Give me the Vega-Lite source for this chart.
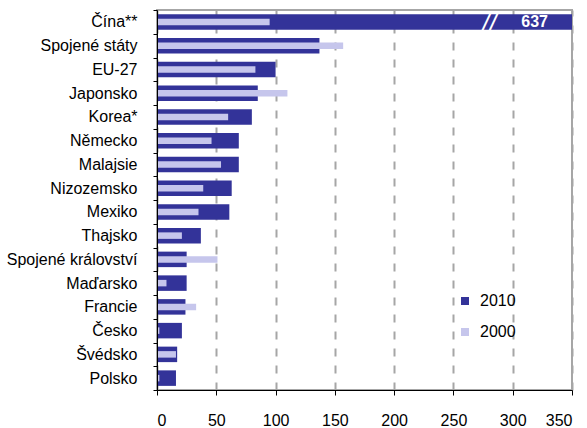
{
  "$schema": "https://vega.github.io/schema/vega-lite/v6.json",
  "autosize": {"type": "none"},
  "padding": {"left": 157, "top": 10, "right": 15, "bottom": 38},
  "width": 415,
  "height": 380,
  "config": {
    "font": "Liberation Sans",
    "view": {"stroke": "#a6a6a6", "strokeWidth": 2}
  },
  "data": {"values": [
    {"country": "Čína**", "year": "2010", "value": 637},
    {"country": "Čína**", "year": "2000", "value": 95},
    {"country": "Spojené státy", "year": "2010", "value": 137},
    {"country": "Spojené státy", "year": "2000", "value": 157},
    {"country": "EU-27", "year": "2010", "value": 100},
    {"country": "EU-27", "year": "2000", "value": 83},
    {"country": "Japonsko", "year": "2010", "value": 85},
    {"country": "Japonsko", "year": "2000", "value": 110},
    {"country": "Korea*", "year": "2010", "value": 80},
    {"country": "Korea*", "year": "2000", "value": 60},
    {"country": "Německo", "year": "2010", "value": 69},
    {"country": "Německo", "year": "2000", "value": 46},
    {"country": "Malajsie", "year": "2010", "value": 69},
    {"country": "Malajsie", "year": "2000", "value": 54},
    {"country": "Nizozemsko", "year": "2010", "value": 63},
    {"country": "Nizozemsko", "year": "2000", "value": 39},
    {"country": "Mexiko", "year": "2010", "value": 61},
    {"country": "Mexiko", "year": "2000", "value": 35},
    {"country": "Thajsko", "year": "2010", "value": 37},
    {"country": "Thajsko", "year": "2000", "value": 21},
    {"country": "Spojené království", "year": "2010", "value": 25},
    {"country": "Spojené království", "year": "2000", "value": 51},
    {"country": "Maďarsko", "year": "2010", "value": 25},
    {"country": "Maďarsko", "year": "2000", "value": 8},
    {"country": "Francie", "year": "2010", "value": 24},
    {"country": "Francie", "year": "2000", "value": 33},
    {"country": "Česko", "year": "2010", "value": 21},
    {"country": "Česko", "year": "2000", "value": 2},
    {"country": "Švédsko", "year": "2010", "value": 17},
    {"country": "Švédsko", "year": "2000", "value": 16},
    {"country": "Polsko", "year": "2010", "value": 16},
    {"country": "Polsko", "year": "2000", "value": 2}
  ]},
  "encoding": {
    "y": {
      "field": "country", "type": "nominal", "sort": null,
      "scale": {"paddingInner": 0, "paddingOuter": 0},
      "axis": {
        "title": null, "grid": false, "zindex": 1,
        "labelFontSize": 16, "labelColor": "#000000", "labelPadding": 16,
        "tickBand": "extent", "tickSize": 4, "tickColor": "#000000",
        "domainColor": "#000000", "domainWidth": 1
      }
    }
  },
  "layer": [
    {
      "transform": [{"filter": "datum.year == '2010'"}],
      "mark": {"type": "bar", "size": 15.5, "clip": true},
      "encoding": {
        "x": {
          "field": "value", "type": "quantitative",
          "scale": {"domain": [0, 350], "nice": false, "zero": true},
          "axis": {
            "title": null, "values": [0, 50, 100, 150, 200, 250, 300, 350],
            "labelFontSize": 16, "labelColor": "#000000", "labelPadding": 17,
            "tickSize": 5, "tickColor": "#000000", "domainColor": "#000000",
            "grid": true, "gridColor": "#a6a6a6", "gridWidth": 2, "gridDash": [8, 9]
          }
        },
        "color": {
          "field": "year", "type": "nominal",
          "scale": {"domain": ["2010", "2000"], "range": ["#333399", "#c6c6ec"]},
          "legend": {
            "title": null, "orient": "none", "legendX": 300, "legendY": 283,
            "padding": 0, "symbolType": "square", "symbolSize": 64,
            "symbolStrokeWidth": 0, "labelFontSize": 16, "labelColor": "#000000",
            "labelOffset": 7, "rowPadding": 15
          }
        }
      }
    },
    {
      "transform": [{"filter": "datum.year == '2000'"}],
      "mark": {"type": "bar", "size": 6.5, "clip": true},
      "encoding": {
        "x": {"field": "value", "type": "quantitative"},
        "color": {"field": "year", "type": "nominal"}
      }
    },
    {
      "transform": [{"filter": "datum.year == '2010' && datum.value > 350"}],
      "mark": {"type": "text", "color": "#ffffff", "fontSize": 26, "fontStyle": "italic", "align": "center", "baseline": "middle", "text": "//"},
      "encoding": {
        "x": {"datum": 281, "type": "quantitative"}
      }
    },
    {
      "transform": [{"filter": "datum.year == '2010' && datum.value > 350"}],
      "mark": {"type": "text", "color": "#ffffff", "fontSize": 16, "fontWeight": "bold", "align": "right", "baseline": "middle", "dx": -24},
      "encoding": {
        "x": {"datum": 350, "type": "quantitative"},
        "text": {"field": "value", "type": "quantitative"}
      }
    }
  ]
}
